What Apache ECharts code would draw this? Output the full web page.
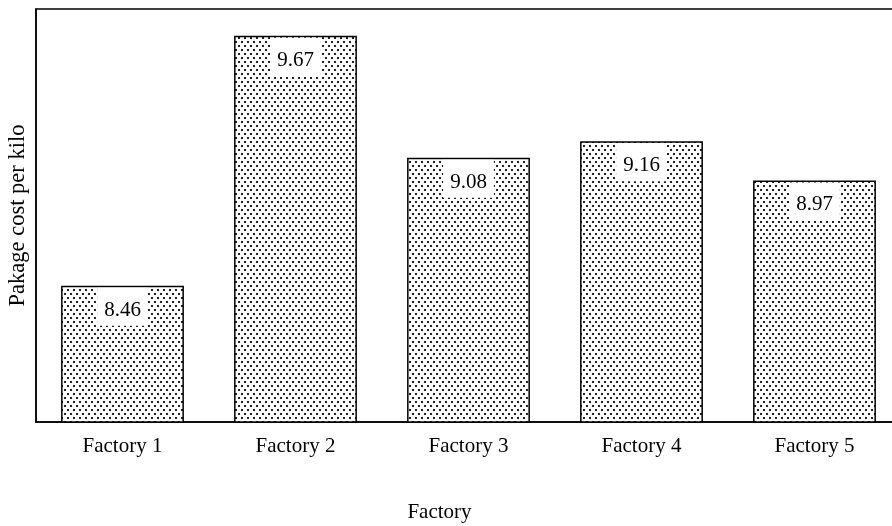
<!DOCTYPE html>
<html><head><meta charset="utf-8">
<script src="https://cdn.jsdelivr.net/npm/echarts@6/dist/echarts.min.js"></script>
<style>html,body{margin:0;padding:0;background:#fff}#c{width:892px;height:526px}</style>
</head><body><div id="c"></div>
<script>
const categories = ['Factory 1', 'Factory 2', 'Factory 3', 'Factory 4', 'Factory 5'];
const values = [8.46, 9.67, 9.08, 9.16, 8.97];
const xAxisName = 'Factory';
const yAxisName = 'Pakage cost per kilo';
const yMin = 7.8, yMax = 9.8;

function makePattern() {
  const c = document.createElement('canvas');
  c.width = 6; c.height = 8;
  const g = c.getContext('2d');
  g.fillStyle = '#fff'; g.fillRect(0, 0, 6, 8);
  g.fillStyle = '#222';
  g.fillRect(1, 1, 2, 2);
  g.fillRect(4, 5, 2, 2);
  return c;
}

const font = 'Liberation Serif, Times New Roman, serif';
const chart = echarts.init(document.getElementById('c'), null, {renderer: 'canvas'});
chart.setOption({
  animation: false,
  backgroundColor: '#fff',
  grid: {left: 36, width: 865, top: 9, height: 413, show: true, borderColor: '#000', borderWidth: 1.5,
         containLabel: false, outerBoundsMode: 'none'},
  xAxis: {
    type: 'category', data: categories,
    name: xAxisName, nameLocation: 'middle', nameGap: 80,
    nameTextStyle: {fontSize: 21, fontFamily: font, color: '#000', padding: [0, 58, 0, 0]},
    axisTick: {show: false},
    axisLine: {show: true, lineStyle: {color: '#000', width: 1.5}},
    axisLabel: {fontSize: 21, fontFamily: font, color: '#000', margin: 14}
  },
  yAxis: {
    type: 'value', min: yMin, max: yMax,
    name: yAxisName, nameLocation: 'middle', nameGap: 6,
    nameTextStyle: {fontSize: 22.5, fontFamily: font, color: '#000'},
    axisLabel: {show: false}, axisTick: {show: false}, splitLine: {show: false},
    axisLine: {show: true, lineStyle: {color: '#000', width: 1.5}}
  },
  series: [{
    type: 'bar', data: values, barWidth: '71%',
    itemStyle: {color: {image: makePattern(), repeat: 'repeat'}, borderColor: '#000', borderWidth: 1.5},
    label: {
      show: true, position: 'insideTop', distance: 2,
      backgroundColor: '#fff', padding: [12, 7, 5, 7],
      fontSize: 21, lineHeight: 21, fontFamily: font, color: '#000'
    }
  }]
});
</script></body></html>
